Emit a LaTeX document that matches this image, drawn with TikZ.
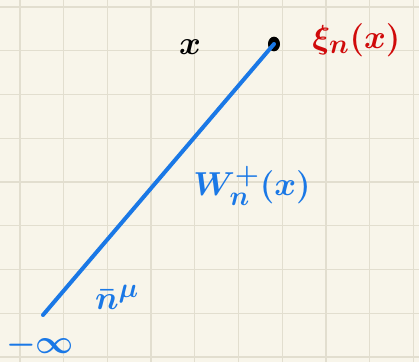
\documentclass[tikz,border=0pt]{standalone}
\usepackage{amsmath,amssymb}
\usepackage{xcolor}
\usetikzlibrary{positioning,shapes.geometric}
\definecolor{paper}{HTML}{F8F5EA}
\definecolor{gridline}{HTML}{E2DECF}
\definecolor{penblue}{HTML}{1A78E6}
\definecolor{penred}{HTML}{D00A0A}

\begin{document}
\begin{tikzpicture}[x=0.75pt,y=-0.75pt,
    lbl/.style={inner sep=0pt,font=\boldmath\fontsize{28}{28}\selectfont}]
  \useasboundingbox (0,0) rectangle (419,362);
  \fill[paper] (0,0) rectangle (419,362);
  \foreach \i in {0,...,9} \draw[gridline,line width=1pt] ({20+43.7*\i},0) -- ({20+43.7*\i},362);
  \foreach \j in {0,...,8} \draw[gridline,line width=1pt] (0,{7+43.75*\j}) -- (419,{7+43.75*\j});
  \coordinate (minf) at (43,315);
  \node[ellipse,fill=black,minimum width=9pt,minimum height=11pt,inner sep=0pt] (xi) at (274,44) {};
  \draw[penblue,line width=3pt,line cap=round] (minf) -- (xi.center);
  \node[lbl] (xlab) at (190,47) {$x$};
  \node[lbl,penred,anchor=west,font=\boldmath\fontsize{30}{30}\selectfont] (xilab) at (312,40) {$\xi_n(x)$};
  \node[lbl,penblue] (wlab) at (252,186) {$W_n^+(x)$};
  \node[lbl,penblue] (nlab) at (117,297) {$\bar{n}^\mu$};
  \node[lbl,penblue] (inf) at (40,345) {$-\infty$};
\end{tikzpicture}
\end{document}
